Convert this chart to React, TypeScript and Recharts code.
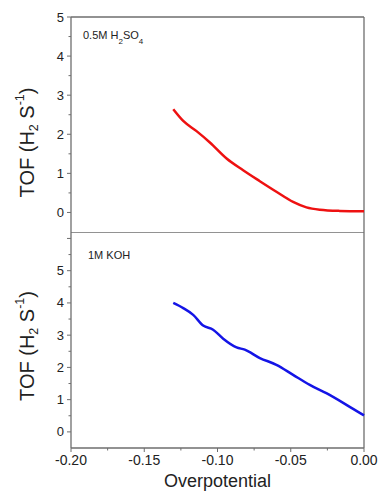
import React from 'react';
import { LineChart, Line, XAxis, YAxis, ReferenceLine } from 'recharts';

// overpotential (V) vs TOF
const acidX = [-0.1302, -0.1234, -0.1143, -0.1052, -0.0938, -0.0825, -0.0711, -0.0598, -0.0484, -0.0393, -0.0302, -0.0166, 0.0];
const acidTof = [2.64, 2.34, 2.08, 1.79, 1.38, 1.08, 0.8, 0.53, 0.27, 0.13, 0.07, 0.04, 0.03];

const baseX = [-0.1302, -0.1234, -0.1166, -0.1098, -0.103, -0.0961, -0.087, -0.0814, -0.0711, -0.0598, -0.0484, -0.037, -0.0257, -0.012, 0.0];
const baseTof = [4.0, 3.84, 3.63, 3.3, 3.17, 2.89, 2.62, 2.55, 2.29, 2.08, 1.77, 1.46, 1.2, 0.84, 0.51];

const xTicks = [-0.2, -0.175, -0.15, -0.125, -0.1, -0.075, -0.05, -0.025, 0];
const topTicks = [0, 0.5, 1, 1.5, 2, 2.5, 3, 3.5, 4, 4.5, 5];
const topLabels = [0, 1, 2, 3, 4, 5];
const bottomTicks = [0, 0.5, 1, 1.5, 2, 2.5, 3, 3.5, 4, 4.5, 5, 5.5, 6];
const bottomLabels = [0, 1, 2, 3, 4, 5];

const acidData = acidX.map((x, i) => ({ x, tof: acidTof[i] }));
const baseData = baseX.map((x, i) => ({ x, tof: baseTof[i] }));

const FONT = '"Liberation Sans", Arial, sans-serif';
const AXIS = '#6e6e6e';

const YTick = ({ x, y, payload, labels }: any) => {
  const v = payload.value;
  const major = labels.includes(v);
  return (
    <g>
      <line x1={x} x2={x - (Number.isInteger(v) ? 4 : 2.5)} y1={y} y2={y} stroke={AXIS} strokeWidth={1} />
      {major && (
        <text x={x - 7} y={y} textAnchor="end" dominantBaseline="central" fontSize={13} fontFamily={FONT} fill="#222">
          {String(v)}
        </text>
      )}
    </g>
  );
};

const XTick = ({ x, y, payload }: any) => {
  const v = payload.value;
  const major = Math.abs(v * 20 - Math.round(v * 20)) < 1e-6;
  return (
    <g>
      <line x1={x} x2={x} y1={y} y2={y + (major ? 4 : 2.5)} stroke={AXIS} strokeWidth={1} />
      {major && (
        <text x={x} y={y + 17} textAnchor="middle" fontSize={14} fontFamily={FONT} fill="#222">
          {v.toFixed(2)}
        </text>
      )}
    </g>
  );
};

// rotated y-axis title with sub/superscripts
const TofTitle = ({ viewBox, shift }: any) => {
  const cx = 27;
  const cy = viewBox.y + viewBox.height / 2 + shift;
  return (
    <text x={cx} y={cy} transform={`rotate(-90, ${cx}, ${cy})`} textAnchor="middle" dominantBaseline="central" fontSize={20} fontFamily={FONT} fill="#222">
      TOF (H<tspan fontSize={12.5} baselineShift="sub">2</tspan> S<tspan fontSize={12.5} baselineShift="super">-1</tspan>)
    </text>
  );
};

export default function App() {
  return (
    <div style={{ position: 'absolute', left: 0, top: 0, width: 382, height: 494, background: '#fff' }}>
      <LineChart width={382} height={232} data={acidData} margin={{ top: 17, right: 18, bottom: 0, left: 0 }}>
        <XAxis dataKey="x" type="number" domain={[-0.2, 0]} hide />
        <YAxis
          type="number"
          domain={[-0.5, 5]}
          ticks={topTicks}
          interval={0}
          width={71}
          tickSize={0}
          tickMargin={0}
          tickLine={false}
          tick={<YTick labels={topLabels} />}
          axisLine={{ stroke: AXIS, strokeWidth: 1.3 }}
          label={{ content: (p: any) => <TofTitle {...p} shift={18} /> }}
        />
        <ReferenceLine y={5} stroke={AXIS} strokeWidth={1.3} />
        <ReferenceLine x={0} stroke={AXIS} strokeWidth={1.3} />
        <Line dataKey="tof" type="monotone" stroke="#ee1111" strokeWidth={2.5} dot={false} isAnimationActive={false} />
        <text x={83} y={39} fontSize={11} fontFamily={FONT} fill="#222">
          0.5M H<tspan fontSize={8} baselineShift="sub">2</tspan>SO<tspan fontSize={8} baselineShift="sub">4</tspan>
        </text>
      </LineChart>
      <LineChart width={382} height={262} data={baseData} margin={{ top: 0, right: 18, bottom: 0, left: 0 }}>
        <XAxis
          dataKey="x"
          type="number"
          domain={[-0.2, 0]}
          ticks={xTicks}
          interval={0}
          height={46}
          tickSize={0}
          tickMargin={0}
          tickLine={false}
          tick={<XTick />}
          axisLine={{ stroke: AXIS, strokeWidth: 1.3 }}
          label={{ value: 'Overpotential', position: 'insideBottom', offset: 7, fontSize: 18, fontFamily: FONT, fill: '#222' }}
        />
        <YAxis
          type="number"
          domain={[-0.5, 6.2]}
          ticks={bottomTicks}
          interval={0}
          width={71}
          tickSize={0}
          tickMargin={0}
          tickLine={false}
          tick={<YTick labels={bottomLabels} />}
          axisLine={{ stroke: AXIS, strokeWidth: 1.3 }}
          label={{ content: (p: any) => <TofTitle {...p} shift={6} /> }}
        />
        <ReferenceLine y={6.2} stroke={AXIS} strokeWidth={1.3} />
        <ReferenceLine x={0} stroke={AXIS} strokeWidth={1.3} />
        <Line dataKey="tof" type="monotone" stroke="#1414e6" strokeWidth={2.5} dot={false} isAnimationActive={false} />
        <text x={88} y={27} fontSize={11} fontFamily={FONT} fill="#222">
          1M KOH
        </text>
      </LineChart>
    </div>
  );
}
